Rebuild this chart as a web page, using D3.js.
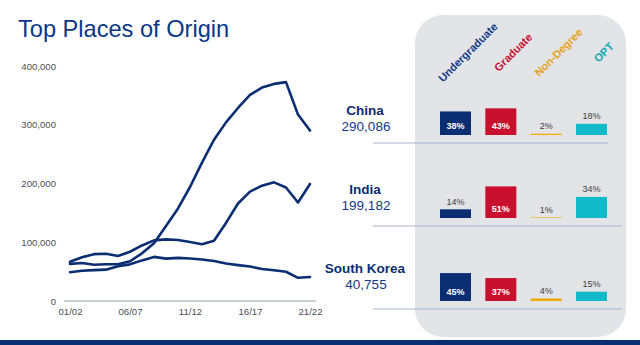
<!DOCTYPE html>
<html><head><meta charset="utf-8">
<script src="https://cdn.jsdelivr.net/npm/d3@7"></script>
<style>body{margin:0;background:#fff;}svg{display:block;font-family:"Liberation Sans",Arial,sans-serif;}</style>
</head><body>
<svg id="c" width="640" height="345"></svg>
<script>
const years = ["01/02","02/03","03/04","04/05","05/06","06/07","07/08","08/09","09/10","10/11","11/12","12/13","13/14","14/15","15/16","16/17","17/18","18/19","19/20","20/21","21/22"];
const xTickLabels = ["01/02","06/07","11/12","16/17","21/22"];
const yTicks = [0,100000,200000,300000,400000];
const chinaSeries = [63211,64757,61765,62523,62582,67723,81127,98235,127628,157558,194029,235597,274439,304040,328547,350755,363341,369548,372532,317299,290086];
const indiaSeries = [66836,74603,79736,80466,76503,83833,94563,103260,104897,103895,100270,96754,102673,132888,165918,186267,196271,202014,193124,167582,199182];
const koreaSeries = [49046,51519,52484,53358,59022,62392,69124,75065,72153,73351,72295,70627,68047,63710,61007,58663,54555,52250,49809,39491,40755];

const countries = ["China","India","South Korea"];
const totals = ["290,086","199,182","40,755"];
const categories = ["Undergraduate","Graduate","Non-Degree","OPT"];
const shares = [[38,43,2,18],[14,51,1,34],[45,37,4,15]];

const catColors = ["#0b2d72","#c8102e","#f2a900","#12b9c9"];
const catTextColors = ["#123a86","#c8102e","#e5a31c","#17a9b3"];
const navy = "#0b2d72";

const svg = d3.select("#c");

// Title
svg.append("text").attr("x",18).attr("y",37).attr("font-size",23.6).attr("fill","#0a3788").text("Top Places of Origin");

// Panel
svg.append("rect").attr("x",415).attr("y",15).attr("width",211).attr("height",322).attr("rx",28).attr("fill","#e3e4e8");

// Line chart
const x = d3.scalePoint().domain(years).range([70,310]);
const y = d3.scaleLinear().domain([0,400000]).range([301,66]);

svg.append("line").attr("x1",64).attr("x2",316).attr("y1",y(0)).attr("y2",y(0)).attr("stroke","#b9c0c9").attr("stroke-width",1.5);

const yAxis = d3.axisLeft(y).tickValues(yTicks).tickFormat(d3.format(",")).tickSize(0).tickPadding(0);
const gy = svg.append("g").attr("transform","translate(56,0)").call(yAxis);
gy.select(".domain").remove();
gy.selectAll("text").attr("font-size",9.6).attr("fill","#4a4f57").attr("font-family","Liberation Sans, Arial, sans-serif");

const xAxis = d3.axisBottom(x).tickValues(xTickLabels).tickSize(0).tickPadding(0);
const gx = svg.append("g").attr("transform","translate(0,308)").call(xAxis);
gx.select(".domain").remove();
gx.selectAll("text").attr("font-size",9.6).attr("fill","#4a4f57").attr("font-family","Liberation Sans, Arial, sans-serif");

const line = d3.line().x((d,i)=>x(years[i])).y(d=>y(d)).curve(d3.curveLinear);
[chinaSeries, indiaSeries, koreaSeries].forEach(s=>{
  svg.append("path").attr("d",line(s)).attr("fill","none").attr("stroke",navy).attr("stroke-width",2.6).attr("stroke-linejoin","round").attr("stroke-linecap","round");
});

// Bars panel
const bx = d3.scaleBand().domain(categories).range([440,607]).paddingInner(0.316).paddingOuter(0);
const row = d3.scalePoint().domain(countries).range([135,301]);
const labelRow = d3.scalePoint().domain(countries).range([111,269]);
const bh = d3.scaleLinear().domain([0,100]).range([0,62]);

// category headers
categories.forEach((c,i)=>{
  const cx = bx(c)+bx.bandwidth()/2+13;
  svg.append("text").attr("transform",`translate(${cx},53) rotate(-45)`)
    .attr("text-anchor","middle").attr("dominant-baseline","middle")
    .attr("font-size",11).attr("font-weight","bold").attr("fill",catTextColors[i]).text(c);
});

countries.forEach((c,r)=>{
  const base = row(c);
  const ly = labelRow(c);
  // separator
  svg.append("line").attr("x1",373).attr("x2",r===0?608:622).attr("y1",base+8).attr("y2",base+8)
    .attr("stroke","#a9b4c6").attr("stroke-width",1);
  // labels
  svg.append("text").attr("x",365).attr("y",ly).attr("text-anchor","middle").attr("dominant-baseline","middle")
    .attr("font-size",13.5).attr("font-weight","bold").attr("fill",navy).text(c);
  svg.append("text").attr("x",366).attr("y",ly+16).attr("text-anchor","middle").attr("dominant-baseline","middle")
    .attr("font-size",13.5).attr("fill","#15398a").text(totals[r]);
  categories.forEach((cat,i)=>{
    const v = shares[r][i];
    const h = bh(v);
    svg.append("rect").attr("x",bx(cat)).attr("y",base-h).attr("width",bx.bandwidth()).attr("height",h).attr("fill",catColors[i]);
    const cx = bx(cat)+bx.bandwidth()/2;
    if (v >= 35) {
      svg.append("text").attr("x",cx).attr("y",base-Math.min(h/2,8)).attr("text-anchor","middle").attr("dominant-baseline","middle")
        .attr("font-size",9).attr("font-weight","bold").attr("fill","#fff").text(v+"%");
    } else {
      svg.append("text").attr("x",cx).attr("y",base-h-7).attr("text-anchor","middle").attr("dominant-baseline","middle")
        .attr("font-size",9).attr("fill","#3a3d44").text(v+"%");
    }
  });
});

// bottom bar
svg.append("rect").attr("x",0).attr("y",340).attr("width",640).attr("height",5).attr("fill",navy);
</script>
</body></html>
